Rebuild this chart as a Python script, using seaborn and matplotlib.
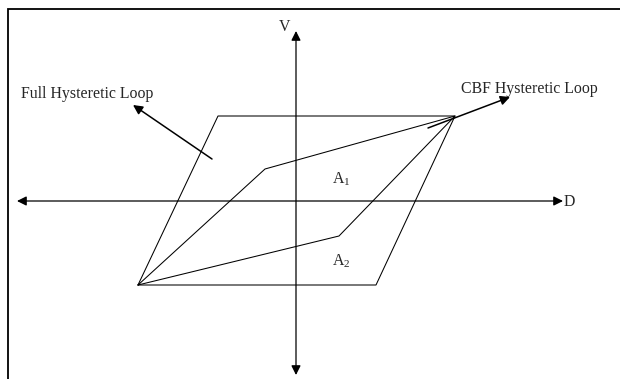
import matplotlib
matplotlib.use("Agg")
import matplotlib.pyplot as plt
import seaborn as sns
import pandas as pd

# loop vertices in (D, V) units, origin at the axes crossing
full_d = [-158, -78, 159, 80, -158]
full_v = [-84, 85, 85, -84, -84]
cbf_d = [-158, -31, 159, 43, -158]
cbf_v = [-84, 32, 85, -35, -84]

labels = ["Full Hysteretic Loop", "CBF Hysteretic Loop", "V", "D"]

sns.set_style("white")
plt.rcParams["font.family"] = ["Liberation Serif", "DejaVu Serif"]
plt.rcParams["mathtext.fontset"] = "custom"
plt.rcParams["mathtext.rm"] = "Liberation Serif"

fig = plt.figure(figsize=(6.2, 3.79), dpi=100)
ax = fig.add_axes([0, 0, 1, 1])
ax.set_xlim(-296, 324)
ax.set_ylim(-178, 201)
ax.axis("off")

full = pd.DataFrame({"D": full_d, "V": full_v})
cbf = pd.DataFrame({"D": cbf_d, "V": cbf_v})
sns.lineplot(data=full, x="D", y="V", sort=False, estimator=None,
             color="black", lw=0.75, ax=ax)
sns.lineplot(data=cbf, x="D", y="V", sort=False, estimator=None,
             color="black", lw=0.75, ax=ax)

# frame (only left and top edges fall inside the picture)
ax.plot([-288, -288, 330], [-190, 192, 192], color="black", lw=1.3,
        solid_joinstyle="miter")

# axes with arrows
axis_kw = dict(arrowstyle="<|-|>", color="black", lw=0.9,
               mutation_scale=14, shrinkA=0, shrinkB=0)
ax.annotate("", xy=(267, 0), xytext=(-279, 0), arrowprops=axis_kw)
ax.annotate("", xy=(0, 170), xytext=(0, -174), arrowprops=axis_kw)

# pointer arrows
ptr_kw = dict(arrowstyle="-|>", color="black", lw=1.1,
              mutation_scale=14, shrinkA=0, shrinkB=0)
ax.annotate("", xy=(-163, 96), xytext=(-84, 42), arrowprops=ptr_kw)
ax.annotate("", xy=(214, 104), xytext=(132, 73), arrowprops=ptr_kw)

fs = 11.4
ax.text(-275, 103, labels[0], fontsize=fs, ha="left", va="baseline")
ax.text(165, 108, labels[1], fontsize=fs, ha="left", va="baseline")
ax.text(-17, 170, labels[2], fontsize=fs, ha="left", va="baseline")
ax.text(268, -5, labels[3], fontsize=fs, ha="left", va="baseline")
ax.text(36, 18, r"A$_{\mathrm{1}}$", fontsize=fs, ha="left", va="baseline")
ax.text(36, -64, r"A$_{\mathrm{2}}$", fontsize=fs, ha="left", va="baseline")

fig.savefig("out.png", dpi=100)
